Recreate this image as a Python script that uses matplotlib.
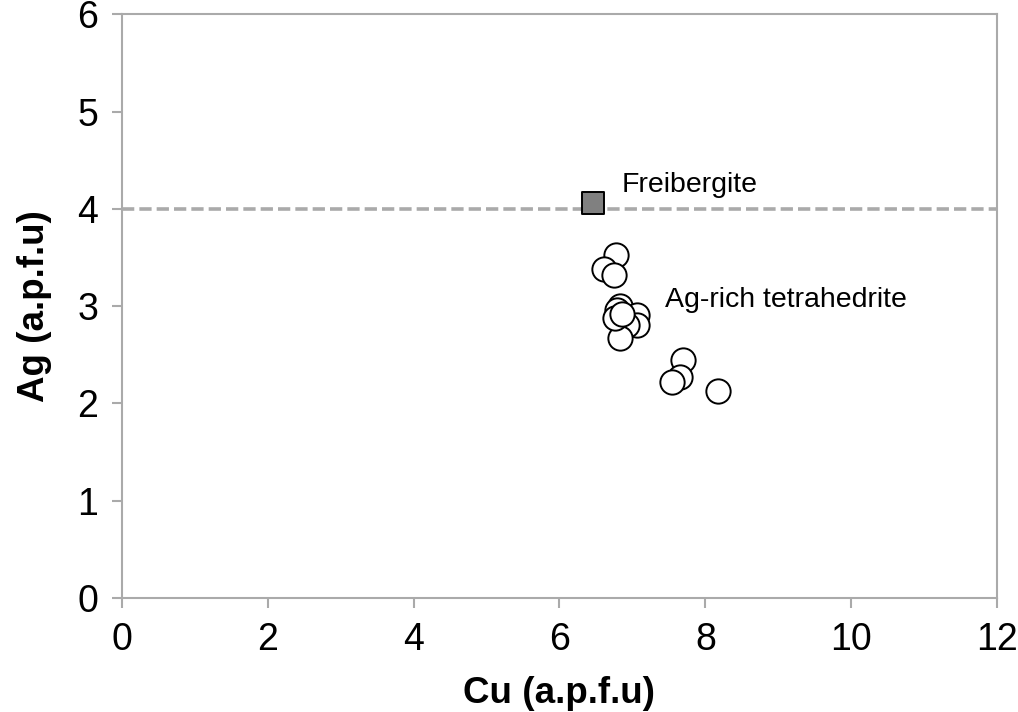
import matplotlib.pyplot as plt

# Data
cu_tet = [6.78, 6.61, 6.75, 6.83, 6.79, 7.06, 7.06, 6.93, 6.83, 6.76, 6.86,
          7.70, 7.65, 7.54, 8.18]
ag_tet = [3.53, 3.38, 3.32, 3.00, 2.96, 2.91, 2.81, 2.81, 2.67, 2.88, 2.92,
          2.45, 2.27, 2.22, 2.13]
cu_frei = [6.46]
ag_frei = [4.06]
ag_line = 4

plt.rcParams['font.family'] = ['Liberation Sans', 'DejaVu Sans']

fig = plt.figure(figsize=(10.18, 7.12), dpi=100)
ax = fig.add_axes([0.1198, 0.160, 0.8596, 0.820])

ax.axhline(ag_line, color='#aaaaaa', lw=2.6, ls=(0, (3.4, 1.4)), zorder=1)
ax.scatter(cu_tet, ag_tet, s=17.5**2, facecolor='white', edgecolor='black',
           linewidth=1.4, zorder=3)
ax.scatter(cu_frei, ag_frei, s=16.5**2, marker='s', facecolor='#808080',
           edgecolor='black', linewidth=1.4, zorder=3)

ax.text(6.85, 4.24, "Freibergite", fontsize=20.5, va='center', ha='left')
ax.text(7.45, 3.06, "Ag-rich tetrahedrite", fontsize=20.5, va='center', ha='left')

ax.set_xlim(0, 12)
ax.set_ylim(0, 6)
ax.set_xticks(range(0, 13, 2))
ax.set_yticks(range(0, 7))
ax.set_xlabel("Cu (a.p.f.u)", fontsize=26.5, fontweight='bold', labelpad=13)
ax.set_ylabel("Ag (a.p.f.u)", fontsize=26.5, fontweight='bold', labelpad=18)

for s in ax.spines.values():
    s.set_color('#aaaaaa')
    s.set_linewidth(1.5)
ax.tick_params(direction='out', length=7, width=1.5, color='#aaaaaa',
               labelsize=27, pad=10)

fig.savefig("out.png", dpi=100)
